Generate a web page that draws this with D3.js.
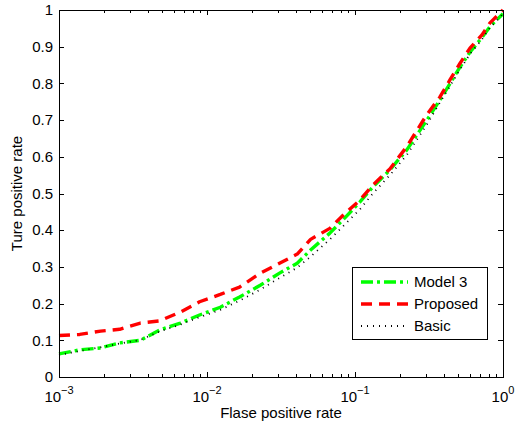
<!DOCTYPE html>
<html>
<head>
<meta charset="utf-8">
<script src="https://cdn.jsdelivr.net/npm/d3@7"></script>
<style>
  body { margin: 0; background: #fff; }
  svg { display: block; font-family: "Liberation Sans", Arial, sans-serif; }
</style>
</head>
<body>
<svg id="chart" width="517" height="427"></svg>
<script>
// ======================================================================
// DATA
// ======================================================================

// false positive rate grid (shared by the three curves)
var fpr = [0.001, 0.00138, 0.00191, 0.00257, 0.00355, 0.00479, 0.00661, 0.00891,
           0.0123, 0.0166, 0.0229, 0.0309, 0.0407, 0.0501, 0.0676, 0.0851,
           0.108, 0.132, 0.172, 0.224, 0.306, 0.375, 0.439, 0.513,
           0.598, 0.721, 0.817, 1.0];

var tprModel3 = [0.063, 0.074, 0.079, 0.093, 0.100, 0.128, 0.147, 0.169,
                 0.190, 0.218, 0.250, 0.283, 0.310, 0.346, 0.392, 0.433,
                 0.477, 0.518, 0.564, 0.619, 0.700, 0.755, 0.800, 0.845,
                 0.885, 0.925, 0.955, 0.990];

var tprProposed = [0.113, 0.116, 0.125, 0.130, 0.147, 0.153, 0.177, 0.205,
                   0.225, 0.245, 0.283, 0.310, 0.335, 0.375, 0.405, 0.445,
                   0.482, 0.523, 0.567, 0.628, 0.715, 0.763, 0.810, 0.855,
                   0.896, 0.932, 0.965, 1.000];

var tprBasic = [0.060, 0.071, 0.081, 0.091, 0.101, 0.124, 0.143, 0.163,
                0.183, 0.208, 0.238, 0.270, 0.298, 0.328, 0.375, 0.415,
                0.457, 0.500, 0.550, 0.605, 0.688, 0.748, 0.793, 0.838,
                0.880, 0.920, 0.952, 0.990];

var seriesNames = ["Model 3", "Proposed", "Basic"];
var yTicks = [0, 0.1, 0.2, 0.3, 0.4, 0.5, 0.6, 0.7, 0.8, 0.9, 1];
var xTicks = [0.001, 0.01, 0.1, 1];
var xTickExp = ["\u22123", "\u22122", "\u22121", "0"];

(function() {
    // ======================================================================
    // LAYOUT
    // ======================================================================

    var svg = d3.select("#chart");
    var pLeft = 59, pRight = 503, pTop = 10, pBottom = 377;

    var x = d3.scaleLog().domain([0.001, 1]).range([pLeft, pRight]);
    var y = d3.scaleLinear().domain([0, 1]).range([pBottom, pTop]);

    var styles = {
        "Model 3":  {color: "#00ff00", width: 3.4, dash: "12,4,3,4"},
        "Proposed": {color: "#ff0000", width: 3.4, dash: "11,7"},
        "Basic":    {color: "#000000", width: 1.8, dash: "1,5"}
    };

    var series = [
        {name: "Model 3", values: tprModel3},
        {name: "Proposed", values: tprProposed},
        {name: "Basic", values: tprBasic}
    ];

    // ======================================================================
    // CURVES
    // ======================================================================

    var line = d3.line()
        .x(function(d, i) { return x(fpr[i]); })
        .y(function(d) { return y(d); });

    svg.append("g").selectAll("path")
        .data(series)
        .enter().append("path")
        .attr("d", function(s) { return line(s.values); })
        .attr("fill", "none")
        .attr("stroke", function(s) { return styles[s.name].color; })
        .attr("stroke-width", function(s) { return styles[s.name].width; })
        .attr("stroke-dasharray", function(s) { return styles[s.name].dash; })
        .attr("stroke-linejoin", "round");

    // ======================================================================
    // AXES (matlab style box with inward ticks)
    // ======================================================================

    var ax = svg.append("g");

    ax.append("rect")
        .attr("x", pLeft + 0.5).attr("y", pTop + 0.5)
        .attr("width", pRight - pLeft).attr("height", pBottom - pTop)
        .attr("fill", "none").attr("stroke", "#000").attr("stroke-width", 1);

    // minor log ticks
    var minor = [];
    for (var e = -3; e < 0; e++) {
        for (var m = 2; m <= 9; m++) {
            minor.push(m * Math.pow(10, e));
        }
    }

    function tickLine(x1, y1, x2, y2) {
        ax.append("line")
            .attr("x1", x1).attr("y1", y1).attr("x2", x2).attr("y2", y2)
            .attr("stroke", "#000").attr("stroke-width", 1);
    }

    minor.forEach(function(v) {
        var px = Math.round(x(v)) + 0.5;
        tickLine(px, pBottom, px, pBottom - 3);
        tickLine(px, pTop, px, pTop + 3);
    });

    xTicks.forEach(function(v) {
        var px = Math.round(x(v)) + 0.5;
        tickLine(px, pBottom, px, pBottom - 5);
        tickLine(px, pTop, px, pTop + 5);
    });

    yTicks.forEach(function(v) {
        var py = Math.round(y(v)) + 0.5;
        tickLine(pLeft, py, pLeft + 5, py);
        tickLine(pRight, py, pRight - 5, py);
    });

    // y tick labels
    ax.selectAll(".ylab")
        .data(yTicks)
        .enter().append("text")
        .attr("x", pLeft - 6)
        .attr("y", function(d) { return y(d); })
        .attr("dy", "0.35em")
        .attr("text-anchor", "end")
        .attr("font-size", 15)
        .text(function(d) { return String(d); });

    // x tick labels: 10 with superscript exponent
    xTicks.forEach(function(v, i) {
        var t = ax.append("text")
            .attr("x", x(v))
            .attr("y", 402)
            .attr("text-anchor", "middle")
            .attr("font-size", 15);
        t.append("tspan").text("10");
        t.append("tspan").attr("dy", -8).attr("font-size", 11).text(xTickExp[i]);
    });

    // axis titles
    svg.append("text")
        .attr("x", (pLeft + pRight) / 2)
        .attr("y", 418)
        .attr("text-anchor", "middle")
        .attr("font-size", 15)
        .text("Flase positive rate");

    svg.append("text")
        .attr("transform", "translate(22," + (pTop + pBottom) / 2 + ") rotate(-90)")
        .attr("text-anchor", "middle")
        .attr("font-size", 15)
        .text("Ture positive rate");

    // ======================================================================
    // LEGEND
    // ======================================================================

    var lg = svg.append("g");
    lg.append("rect")
        .attr("x", 352.5).attr("y", 267.5)
        .attr("width", 135).attr("height", 72)
        .attr("fill", "#fff").attr("stroke", "#000").attr("stroke-width", 1);

    var legendY = [282, 304, 326];
    seriesNames.forEach(function(name, i) {
        var st = styles[name];
        lg.append("line")
            .attr("x1", 361).attr("x2", 408)
            .attr("y1", legendY[i]).attr("y2", legendY[i])
            .attr("stroke", st.color)
            .attr("stroke-width", st.width)
            .attr("stroke-dasharray", st.dash);
        lg.append("text")
            .attr("x", 414)
            .attr("y", legendY[i])
            .attr("dy", "0.35em")
            .attr("font-size", 15)
            .text(name);
    });
})();
</script>
</body>
</html>
